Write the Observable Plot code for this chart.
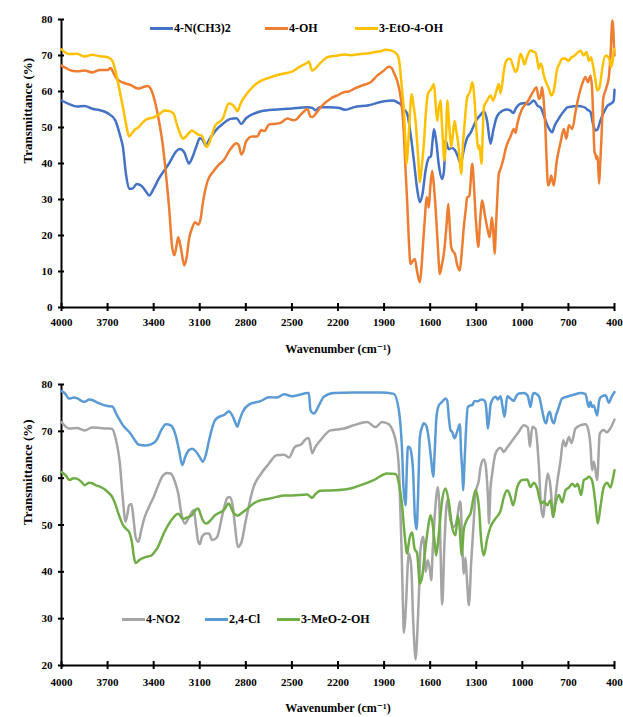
<!DOCTYPE html>
<html><head><meta charset="utf-8">
<script src="https://cdn.jsdelivr.net/npm/d3@7"></script>
<script src="https://cdn.jsdelivr.net/npm/@observablehq/plot@0.6"></script>
<style>
body{margin:0;background:#fff;}
#chart{position:relative;width:623px;height:717px;font-family:'Liberation Serif',Tinos,'DejaVu Serif',serif;font-weight:bold;color:#000;}
#chart svg{position:absolute;left:0;overflow:visible;}
#chart svg text{font-family:'Liberation Serif',Tinos,'DejaVu Serif',serif;}
.legend{position:absolute;display:flex;align-items:center;font-size:12px;white-space:nowrap;line-height:1;}
.swatch{display:inline-block;width:23px;height:3px;margin-right:1px;}
</style></head><body><div id="chart"></div>
<script>
// ---------- tick labels / axis text ----------
const xTicks = [4000,3700,3400,3100,2800,2500,2200,1900,1600,1300,1000,700,400];
const yTicksTop = [0,10,20,30,40,50,60,70,80];
const yTicksBottom = [20,30,40,50,60,70,80];
const xTitle = "Wavenumber (cm⁻¹)";
const yTitle = "Transmittance (%)";

// ---------- top panel series ----------
const namesTop = ["4-N(CH3)2","4-OH","3-EtO-4-OH"];
const colorsTop = ["#4472C4","#ED7D31","#FFC000"];

const wnNMe2 = [4000,3950,3900,3850,3800,3750,3700,3650,3620,3600,3580,3560,3540,3510,3480,3450,3430,3400,3370,3300,3250,3230,3200,3170,3150,3120,3100,3080,3062,3040,3000,2950,2900,2860,2830,2800,2750,2700,2600,2500,2400,2370,2346,2320,2250,2200,2150,2100,2000,1900,1840,1814,1793,1770,1750,1730,1706,1685,1667,1650,1630,1610,1595,1585,1575,1560,1545,1522,1510,1500,1480,1460,1440,1420,1402,1380,1360,1337,1300,1272,1250,1230,1207,1190,1170,1150,1100,1077,1060,1040,1012,980,960,925,900,880,860,830,806,790,770,751,720,708,665,640,621,590,578,556,540,523,510,495,480,460,447,415,405,400];
const tNMe2 = [57.5,56.5,55.8,56,55.2,54.8,54,52,48,44.5,37,33,33,34.3,33.8,32.2,31.1,33,35.5,40,43.5,44,43,40,41.5,45,47,46.5,45,46.5,49,51,52.4,52.6,51,52.5,53.8,54.5,55,55.3,55.6,55.5,54.8,55.6,55.6,55.5,54.9,55.6,56.2,57.3,57.5,57,56.5,55,53.9,49,40.8,33,29.3,31.5,38,41.5,42,46,49.5,46,40,35.7,38,46.4,44,44.3,43.8,42,40,44,47,48.5,52,53.5,54.5,52,45.5,49,52.5,54,55,54.7,54,55.5,56.6,56.8,56.4,57.5,56,55.5,53.3,50,48.7,50.5,52,53.3,55,55.6,55.9,56,55.9,55.5,55,54.3,51,49.2,49.5,51.5,53.3,55,56,56.9,57.5,60.5];

const wnOH = [4000,3970,3950,3900,3850,3800,3750,3700,3680,3660,3640,3600,3550,3500,3470,3440,3420,3400,3380,3360,3340,3320,3300,3280,3265,3250,3240,3225,3200,3185,3170,3150,3130,3110,3095,3080,3050,3008,2980,2943,2900,2860,2845,2830,2815,2800,2760,2726,2700,2680,2650,2618,2574,2530,2490,2470,2444,2420,2400,2379,2368,2346,2314,2249,2200,2162,2130,2097,2042,1988,1945,1902,1869,1850,1837,1804,1780,1771,1760,1750,1738,1728,1715,1700,1685,1667,1655,1645,1634,1624,1617,1609,1600,1587,1576,1565,1550,1537,1523,1511,1495,1482,1472,1463,1450,1439,1425,1407,1395,1381,1369,1359,1345,1326,1315,1305,1295,1287,1275,1261,1245,1229,1212,1199,1190,1181,1170,1153,1142,1120,1109,1077,1055,1044,1033,1001,968,925,908,892,880,871,860,850,843,832,820,812,795,777,751,730,714,697,675,654,632,610,589,573,556,545,539,530,524,517,510,500,493,486,473,452,437,426,415,411,404,400];
const tOH = [67.2,66.5,66,65.6,65.8,65.3,66,66,66.5,65,63.5,62.5,61.8,60.8,61.2,61.5,60.8,58.5,55,50.5,45,37,28,17,14.5,17.5,19.5,17,11.7,14,19,22,23.7,23,24.5,29,35,38,39.5,41,44,45.6,45,42.5,43.5,46,47.5,47.5,49.3,49,50.8,51,51.3,52.5,52,52.3,53.5,54.5,55.2,53,52.9,53.8,55.6,58,59,59.8,60,60.7,61.7,62.6,64.4,65.8,66.9,66.5,65.3,61.2,54,48.2,38,29.7,18,12.1,12.8,13.5,10,7,12,18.6,25,30.6,30,27.8,33,38,34,27.8,17,9.3,12,14.9,22,28.8,22,16.8,15.5,14.9,12,10.3,15,22.3,27,30.6,31,39.9,34,26,20,16.8,24,29.7,26,22.3,19.5,25,22,14.9,24,37.1,38.5,41.8,44,47.5,49.6,48.5,51,55.2,57,60.3,61.2,57.9,59,61.2,57,50,42.2,33.9,35,36.7,33.9,40.4,45.9,49.6,46.9,50.6,49.6,54.3,58.9,62.1,64,62.6,64.4,60,53.3,43.1,42.5,41.2,42,34.4,40,46,58,61.2,64,70,79.3,79.7,73,70];

const wnEtO = [4000,3950,3900,3850,3800,3750,3700,3670,3650,3630,3600,3580,3560,3540,3520,3500,3480,3450,3400,3360,3330,3300,3270,3250,3225,3210,3190,3170,3150,3130,3110,3090,3070,3056,3040,3020,3000,2950,2911,2890,2870,2855,2840,2820,2800,2750,2700,2650,2600,2550,2500,2444,2400,2390,2368,2350,2335,2300,2270,2200,2162,2119,2053,2000,1967,1920,1891,1847,1814,1800,1793,1782,1771,1760,1754,1745,1739,1730,1721,1708,1695,1680,1667,1655,1641,1628,1615,1593,1576,1565,1554,1545,1533,1522,1507,1495,1489,1475,1463,1450,1441,1430,1420,1410,1398,1387,1376,1359,1340,1326,1311,1300,1294,1285,1279,1266,1258,1251,1229,1207,1190,1168,1153,1142,1120,1109,1088,1077,1060,1044,1033,1012,1000,986,970,947,925,914,900,892,885,878,860,845,827,812,800,790,773,760,741,720,700,680,665,643,621,600,582,567,553,539,525,513,500,490,480,458,440,430,422,412,404,400];
const tEtO = [71.7,70.4,70.5,69.7,70.2,69.8,69.5,68.6,66,62,55.6,51,47.5,48.5,49.5,50,51,52.2,52.8,53.8,54.7,54.6,53.8,51,48,46.9,47.5,48.5,49.2,48.6,48,47.8,46.2,44.6,45.5,48,50.5,52.5,56.7,56.4,55.5,54.5,56,57.8,59,61.5,63,63.8,64.5,65,65.5,67,68,68.3,65.8,66.3,67,68.5,69.5,70,70.3,70.1,70.4,70.6,70.9,71.2,71.6,71.3,70.2,68,64.9,60,54.7,45,39.9,44,48.2,55,59.3,56,51.8,43,34.8,39,45.5,54,59.3,60.7,62.1,57,51.8,55,57.5,50,40.8,50,57.5,50,44.5,49,51.8,49,46.4,42,37.1,45,51,58.4,60,62.6,57.5,50,46.4,44,45,39.9,48,55.6,57.5,58.9,57.5,60.3,62.1,59.5,65.8,68.1,69.1,69,67,65.4,66,70.5,69.5,67.5,69.5,71.4,71,70.8,68,66.3,67.5,67.7,64.5,62.5,60.8,58.9,59.5,61.5,66.3,67.5,69.1,69.2,68.5,69.5,69.8,70.7,71.3,70,71,68.5,69.5,67,63.5,60.3,60.8,63,66.3,70,69.5,68.5,66.8,68.5,71.9,71.5];

// ---------- bottom panel series ----------
const namesBottom = ["4-NO2","2,4-Cl","3-MeO-2-OH"];
const colorsBottom = ["#A5A5A5","#5B9BD5","#70AD47"];

const wnNO2 = [4000,3950,3900,3850,3800,3750,3700,3670,3650,3620,3600,3583,3570,3560,3545,3530,3518,3500,3480,3460,3430,3400,3370,3345,3312,3290,3270,3250,3240,3220,3197,3170,3150,3138,3125,3110,3099,3085,3060,3040,3020,3000,2986,2950,2920,2904,2885,2870,2852,2830,2800,2750,2700,2650,2600,2550,2520,2480,2440,2400,2390,2368,2350,2314,2249,2162,2097,2010,1956,1912,1869,1840,1825,1804,1795,1786,1778,1771,1762,1754,1745,1739,1724,1711,1702,1695,1688,1680,1670,1663,1646,1635,1630,1615,1600,1593,1583,1572,1550,1540,1532,1522,1507,1489,1467,1445,1424,1407,1402,1391,1381,1370,1360,1348,1333,1316,1305,1283,1272,1251,1240,1229,1222,1218,1207,1196,1174,1142,1120,1100,1077,1055,1023,990,964,951,935,914,892,878,864,849,834,816,799,784,769,751,734,719,697,680,654,621,589,573,556,546,535,525,513,496,470,450,426,400];
const tNO2 = [72,70.6,70.7,70.2,70.8,70.7,70.6,70.5,68.8,63.1,55.3,50.7,52.5,54.2,54.5,51,47.5,46.4,49,51.5,53.9,56,58.5,60.3,61.1,61,60,58,56.7,52.5,50.3,51.7,52.8,53.2,50,46.5,45.9,47.5,48.2,48.2,46.8,47,47.5,52.5,55.8,56,54,49.6,45.3,46.2,51,58.1,61,63.1,64.9,65,64.4,66.7,67.2,68.5,68.5,65.3,66.5,68.1,70.2,70.6,71.3,72,70.9,72,71.5,69.8,68.1,62.4,54,44.6,34,27,30,35.4,42,43.9,41.5,30,24,21.3,24,29.7,38,45,47.5,43,40,42.5,40,38.2,45,51,58.1,54,44,33,46,55.3,51,49.6,51.5,55,54.6,46,39.6,43,38,32.9,42,51,56.7,59.6,62.4,64,63,59,54.6,50.3,58,61,65.3,66.5,65.6,66.5,67.5,68.5,69.9,71.3,70.8,66.7,71,70.5,62.4,53.9,51.7,57.4,61,58,51.7,56,60,63.8,68.1,66.8,68.8,67.5,70.6,71.3,71.5,70.6,66.7,61.7,63.5,62,59.6,69.5,70.3,69.8,70.7,72.5];

const wnCl = [4000,3980,3950,3920,3900,3870,3850,3820,3800,3770,3750,3700,3670,3640,3600,3550,3520,3500,3450,3410,3380,3350,3320,3290,3260,3235,3214,3195,3170,3149,3125,3100,3080,3060,3040,3000,2960,2940,2911,2890,2870,2856,2840,2820,2780,2700,2650,2600,2550,2500,2450,2400,2390,2379,2357,2325,2292,2227,2100,2000,1923,1837,1804,1790,1782,1775,1760,1752,1745,1732,1721,1712,1700,1689,1680,1667,1652,1641,1625,1609,1593,1580,1570,1559,1544,1522,1500,1489,1479,1467,1457,1441,1424,1407,1398,1391,1385,1378,1370,1355,1340,1326,1311,1290,1275,1261,1245,1235,1225,1218,1205,1174,1160,1142,1130,1116,1098,1077,1055,1040,1023,990,965,947,935,925,892,871,858,845,833,821,808,795,780,769,741,700,665,621,590,567,557,546,535,513,500,491,458,437,420,400];
const tCl = [78.6,78.2,77,77.2,77.1,76.5,76.3,76.8,76.7,76.2,75.9,75.4,75.3,73.5,71.3,69.5,68,67.2,67,67.3,68.2,70.3,71.5,71.3,69.5,66,62.8,64.5,66,66.3,65.7,64.5,63.5,65,68,72.4,73.3,73.5,74.3,73.5,72,71,72.5,74.2,75.7,76.5,77.3,77.2,77.9,77.5,77.8,78.2,78.2,74.5,73.8,75.5,77.4,78.2,78.3,78.3,78.3,78,74.5,70,65.3,58.9,54.2,62,66.7,66.5,65,62,52,49.1,55,68.8,71,71.7,71.2,68.4,63.8,60.3,66,73.1,75.5,76.3,77,76.6,73.1,70.2,69.9,68.5,70,71.5,65,61.7,57.4,62,68,75.2,75.5,75.6,76.5,76.4,76.7,76.8,76.5,75,70.6,72,76,77.4,76.8,77.5,75.5,73.1,77.5,77,76.5,77.5,78.1,78.2,77.6,75.2,77.5,78.2,77.5,74.5,72.5,71.7,73.5,74.2,72.5,71.7,73.5,74.5,77,77.5,77.8,78.2,78,75.2,76.3,75.2,75.5,73.4,76.5,77.3,77.7,76.1,77.3,78.4];

const wnMeO = [4000,3970,3950,3920,3900,3870,3850,3820,3800,3770,3750,3700,3670,3650,3630,3600,3580,3560,3540,3530,3518,3490,3450,3420,3400,3377,3330,3300,3269,3240,3210,3190,3150,3128,3110,3095,3084,3056,3030,3000,2943,2911,2900,2880,2852,2830,2800,2750,2700,2650,2600,2550,2500,2400,2379,2368,2350,2314,2227,2119,2053,1967,1880,1825,1804,1782,1767,1750,1740,1732,1717,1702,1685,1667,1652,1635,1613,1598,1583,1570,1561,1544,1522,1500,1479,1457,1435,1420,1407,1396,1381,1363,1337,1305,1283,1268,1251,1229,1207,1174,1142,1120,1098,1077,1060,1033,1001,968,947,925,903,878,860,838,816,799,784,762,741,719,697,675,655,640,617,600,582,567,546,524,509,491,470,448,426,410,400];
const tMeO = [61.3,60.5,59.6,60,59.9,59.2,58.5,59,58.9,58.4,58.2,57.1,56,54.5,52.5,50,49.2,48.5,46,43.5,41.9,42.6,43.2,43.4,44,45,48.5,50.3,51.7,52.4,51.3,51.5,52.1,53.2,53.5,52.3,51.3,50.3,51,52.1,53.2,54.6,54,52.6,52,52.5,53.2,54.6,55.3,55.6,56,56.3,56.3,56.5,56,55.8,56.5,57.3,57.4,57.8,58.5,59.6,61,60.9,58.9,53.9,48.2,43.9,46,47.5,48.4,45,44,37.5,39,43.9,49.6,52.1,50,46,43.5,48,55.3,57.8,55,49.6,47.8,52.1,49,43.5,49,51,52.5,57.4,54,46.8,43.5,47,49.6,51.4,53,56,57.4,56,54.2,58.1,59.6,59.7,58.1,59,57.8,54.6,55,54.2,55.3,51.7,54.5,56.4,54.8,57.4,58,58.8,58.2,58.8,56.4,59.6,59.9,60.3,59.5,54.6,50.3,54,58.1,59,58,60,61.7];

const FONT = "'Liberation Serif', Tinos, 'DejaVu Serif', serif";
const chart = document.getElementById("chart");

function rows(wn, t) { return wn.map((w, i) => ({w, t: t[i]})); }

function panel({series, colors, yDomain, yTicks, top, height, marginTop, marginBottom, tickPad, xTitleDy}) {
  const marks = [
    Plot.axisY({ticks: yTicks, tickSize: 0, tickPadding: 9, fontSize: 11, fontWeight: "bold", tickFormat: d => String(d), label: null}),
    Plot.axisY({ticks: yTicks, tickSize: 6, dx: 3, strokeWidth: 2, tickFormat: () => "", label: null}),
    Plot.axisX({ticks: xTicks, tickSize: 0, tickPadding: tickPad, fontSize: 11, fontWeight: "bold", tickFormat: d => String(d), label: null}),
    Plot.axisX({ticks: xTicks, tickSize: 8, dy: -4, strokeWidth: 2, tickFormat: () => "", label: null}),
    Plot.ruleX([xTicks[0]], {stroke: "black", strokeWidth: 2}),
    Plot.ruleY([yDomain[0]], {stroke: "black", strokeWidth: 2}),
    Plot.text([xTitle], {frameAnchor: "bottom", dy: xTitleDy, text: d => d, fontSize: 12, fontWeight: "bold"}),
    Plot.text([yTitle], {frameAnchor: "left", dx: -34, rotate: -90, text: d => d, fontSize: 13, fontWeight: "bold"})
  ];
  series.forEach(([wn, t], i) => {
    marks.push(Plot.line(rows(wn, t), {x: "w", y: "t", stroke: colors[i], strokeWidth: 2.5, curve: "monotone-x", strokeLinejoin: "round"}));
  });
  const svg = Plot.plot({
    width: 623, height,
    marginLeft: 61, marginRight: 9, marginTop, marginBottom,
    x: {domain: [xTicks[0], xTicks[xTicks.length - 1]]},
    y: {domain: yDomain},
    style: {fontFamily: FONT, fontWeight: "bold", color: "black", background: "transparent", overflow: "visible"},
    marks
  });
  svg.style.top = top + "px";
  chart.appendChild(svg);
}

panel({
  series: [[wnNMe2, tNMe2], [wnOH, tOH], [wnEtO, tEtO]],
  colors: colorsTop,
  yDomain: [0, 80], yTicks: yTicksTop,
  top: 0, height: 362, marginTop: 19, marginBottom: 55, tickPad: 11, xTitleDy: 45
});
panel({
  series: [[wnNO2, tNO2], [wnCl, tCl], [wnMeO, tMeO]],
  colors: colorsBottom,
  yDomain: [20, 80], yTicks: yTicksBottom,
  top: 362, height: 355, marginTop: 22, marginBottom: 52, tickPad: 13, xTitleDy: 46
});

// ---------- legends ----------
function legend(names, colors, lefts, y) {
  names.forEach((n, i) => {
    const d = document.createElement("div");
    d.className = "legend";
    d.style.left = lefts[i] + "px";
    d.style.top = (y - 6) + "px";
    d.innerHTML = `<span class="swatch" style="background:${colors[i]}"></span><span>${n}</span>`;
    chart.appendChild(d);
  });
}
legend(namesTop, colorsTop, [150, 265, 355], 28);
legend(namesBottom, colorsBottom, [122, 205, 277], 619);
</script></body></html>
